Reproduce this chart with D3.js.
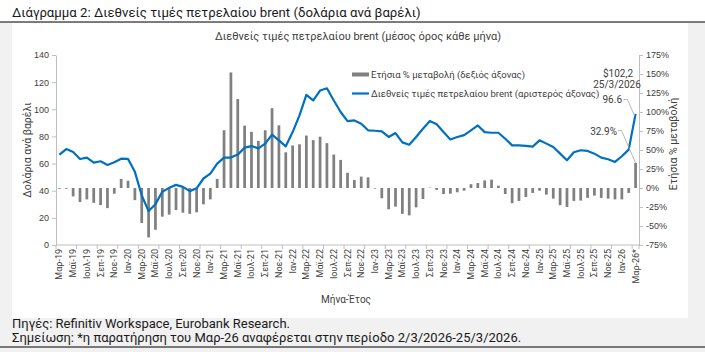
<!DOCTYPE html>
<meta charset="utf-8">
<style>
  body { margin: 0; }
  svg { font-family: Roboto, "Noto Sans", sans-serif; display: block; }
  .axis path, .axis line { stroke: #bfbfbf; }
  .axis text { fill: #404040; font-size: 9px; }
</style>
<body>
<script src="https://cdnjs.cloudflare.com/ajax/libs/d3/7.8.5/d3.min.js"></script>
<script>
  // categories, monthly from Mar-19 to Mar-26
  var months = [
    "Μαρ-19", "Απρ-19", "Μαϊ-19", "Ιουν-19", "Ιουλ-19", "Αυγ-19", "Σεπ-19", "Οκτ-19", "Νοε-19", "Δεκ-19",
    "Ιαν-20", "Φεβ-20", "Μαρ-20", "Απρ-20", "Μαϊ-20", "Ιουν-20", "Ιουλ-20", "Αυγ-20", "Σεπ-20", "Οκτ-20", "Νοε-20", "Δεκ-20",
    "Ιαν-21", "Φεβ-21", "Μαρ-21", "Απρ-21", "Μαϊ-21", "Ιουν-21", "Ιουλ-21", "Αυγ-21", "Σεπ-21", "Οκτ-21", "Νοε-21", "Δεκ-21",
    "Ιαν-22", "Φεβ-22", "Μαρ-22", "Απρ-22", "Μαϊ-22", "Ιουν-22", "Ιουλ-22", "Αυγ-22", "Σεπ-22", "Οκτ-22", "Νοε-22", "Δεκ-22",
    "Ιαν-23", "Φεβ-23", "Μαρ-23", "Απρ-23", "Μαϊ-23", "Ιουν-23", "Ιουλ-23", "Αυγ-23", "Σεπ-23", "Οκτ-23", "Νοε-23", "Δεκ-23",
    "Ιαν-24", "Φεβ-24", "Μαρ-24", "Απρ-24", "Μαϊ-24", "Ιουν-24", "Ιουλ-24", "Αυγ-24", "Σεπ-24", "Οκτ-24", "Νοε-24", "Δεκ-24",
    "Ιαν-25", "Φεβ-25", "Μαρ-25", "Απρ-25", "Μαϊ-25", "Ιουν-25", "Ιουλ-25", "Αυγ-25", "Σεπ-25", "Οκτ-25", "Νοε-25", "Δεκ-25",
    "Ιαν-26", "Φεβ-26", "Μαρ-26*"
  ];

  // brent, $ per barrel (left axis)
  var price = [
    66.6, 70.7, 68.5, 63.4, 64.4, 60.7, 61.7, 59.0, 61.0, 63.6,
    63.4, 53.9, 36.5, 25.0, 30.1, 39.2, 42.1, 44.3, 42.8, 39.7, 41.8, 49.0,
    52.6, 60.0, 64.4, 64.4, 66.6, 71.7, 72.9, 71.2, 74.7, 81.3, 77.1, 72.7,
    83.2, 95.5, 110.6, 106.5, 113.8, 115.5, 106.5, 98.0, 91.3, 91.8, 89.4, 84.5,
    84.2, 83.7, 79.6, 82.5, 75.6, 73.9, 79.6, 85.7, 91.3, 88.9, 83.2, 77.8,
    79.6, 81.0, 84.5, 88.1, 83.2, 82.7, 82.7, 78.3, 73.4, 73.4, 73.0, 72.5,
    77.1, 74.7, 72.2, 67.3, 62.4, 68.3, 69.8, 69.3, 67.3, 64.4, 63.2, 61.2,
    65.4, 70.3, 96.6
  ];

  // yearly % change (right axis)
  var yoy = [
    -1, -1, -11, -18.5, -15, -19.5, -22.5, -26.5, -7.5, 12,
    9.6, -16, -46, -65, -55, -37.7, -35, -29, -32.5, -34, -32, -21.5,
    -15, 12, 76, 152, 117, 82, 74, 62, 76, 105, 82.5, 47,
    56, 57.5, 69, 63, 67.5, 59, 44, 37, 20, 10.5, 15, 14,
    -0.8, -13.5, -28, -24.5, -34, -36, -25.5, -14.5, 0.5, -2.5, -8, -7.5,
    -5.6, -3.5, 5, 6.5, 10, 11, 3, -8, -20, -17, -12, -6.5,
    -3.5, -8.7, -14, -22.6, -25, -17, -16.5, -13, -10, -13, -14, -15,
    -15, -6.5, 32.9
  ];

  var leftTicks = [0, 20, 40, 60, 80, 100, 120, 140];
  var rightTicks = [-75, -50, -25, 0, 25, 50, 75, 100, 125, 150, 175];

  var W = 705, H = 352;
  var plot = { left: 56, right: 639, top: 55, bottom: 245 };

  var svg = d3.select("body").append("svg")
    .attr("width", W)
    .attr("height", H);

  // backgrounds
  svg.append("rect").attr("width", W).attr("height", H).attr("fill", "#f1f1f1");
  svg.append("rect").attr("width", W).attr("height", 22).attr("fill", "#fff");
  svg.append("line").attr("x1", 0).attr("x2", W).attr("y1", 22).attr("y2", 22)
    .attr("stroke", "#000").attr("stroke-width", 1.2);
  svg.append("rect").attr("x", 12).attr("y", 23).attr("width", 676).attr("height", 295).attr("fill", "#fff");
  svg.append("line").attr("x1", 0).attr("x2", W).attr("y1", 347).attr("y2", 347)
    .attr("stroke", "#000").attr("stroke-width", 1.2);

  svg.append("text").attr("x", 12).attr("y", 17)
    .attr("font-size", 13.2).attr("fill", "#1a1a1a")
    .text("Διάγραμμα 2: Διεθνείς τιμές πετρελαίου brent (δολάρια ανά βαρέλι)");

  svg.append("text").attr("x", 358).attr("y", 40).attr("text-anchor", "middle")
    .attr("font-size", 11).attr("fill", "#404040")
    .text("Διεθνείς τιμές πετρελαίου brent (μέσος όρος κάθε μήνα)");

  var x = d3.scaleBand().domain(months).range([plot.left, plot.right]).paddingInner(0.6).paddingOuter(0.3);
  var step = x.step();
  var cx = function (m) { return x(m) + x.bandwidth() / 2; };

  var yL = d3.scaleLinear().domain([0, 140]).range([plot.bottom, plot.top]);
  var yR = d3.scaleLinear().domain([-75, 175]).range([plot.bottom, plot.top]);

  // axes
  svg.append("g").attr("class", "axis")
    .attr("transform", "translate(" + plot.left + ",0)")
    .call(d3.axisLeft(yL).tickValues(leftTicks).tickSize(4).tickPadding(3).tickSizeOuter(0));

  svg.append("g").attr("class", "axis")
    .attr("transform", "translate(" + plot.right + ",0)")
    .call(d3.axisRight(yR).tickValues(rightTicks).tickSize(4).tickPadding(3).tickSizeOuter(0)
      .tickFormat(function (d) { return d + "%"; }));

  // x axis: ticks every 3 months, labels every 2
  var xg = svg.append("g").attr("class", "axis");
  xg.append("line").attr("x1", plot.left).attr("x2", plot.right)
    .attr("y1", plot.bottom).attr("y2", plot.bottom);
  xg.selectAll(".tk").data(months.filter(function (d, i) { return i % 3 === 0; }).concat(["end"]))
    .enter().append("line")
    .attr("x1", function (d) { return d === "end" ? plot.right : x(d) - step * 0.3; })
    .attr("x2", function (d) { return d === "end" ? plot.right : x(d) - step * 0.3; })
    .attr("y1", plot.bottom).attr("y2", plot.bottom + 4);
  xg.selectAll(".lb").data(months.filter(function (d, i) { return i % 2 === 0; }))
    .enter().append("text")
    .attr("transform", function (d) { return "translate(" + (cx(d) + 3) + "," + (plot.bottom + 4) + ") rotate(-90)"; })
    .attr("text-anchor", "end")
    .attr("font-size", 8.8)
    .text(function (d) { return d; });

  // bars
  svg.append("g").selectAll("rect").data(yoy).enter().append("rect")
    .attr("x", function (d, i) { return x(months[i]); })
    .attr("width", x.bandwidth())
    .attr("y", function (d) { return yR(Math.max(0, d)); })
    .attr("height", function (d) { return Math.abs(yR(d) - yR(0)); })
    .attr("fill", "#808080");

  // line
  var line = d3.line()
    .x(function (d, i) { return cx(months[i]); })
    .y(function (d) { return yL(d); });
  svg.append("path").datum(price)
    .attr("d", line)
    .attr("fill", "none")
    .attr("stroke", "#0070c0")
    .attr("stroke-width", 2.2)
    .attr("stroke-linejoin", "round");

  // axis titles
  svg.append("text").attr("transform", "translate(31,150) rotate(-90)")
    .attr("text-anchor", "middle").attr("font-size", 10.5).attr("fill", "#404040")
    .text("Δολάρια ανά βαρέλι");
  svg.append("text").attr("transform", "translate(677,144) rotate(-90)")
    .attr("text-anchor", "middle").attr("font-size", 10.5).attr("fill", "#404040")
    .text("Ετήσια % μεταβολή");
  svg.append("text").attr("x", 346).attr("y", 303).attr("text-anchor", "middle")
    .attr("font-size", 10).attr("fill", "#404040")
    .text("Μήνα-Έτος");

  // legend
  var lg = svg.append("g").attr("font-size", 9.5).attr("fill", "#404040");
  lg.append("rect").attr("x", 352).attr("y", 72.5).attr("width", 17).attr("height", 4).attr("fill", "#808080");
  lg.append("text").attr("x", 371).attr("y", 78).text("Ετήσια % μεταβολή (δεξιός άξονας)");
  lg.append("line").attr("x1", 352).attr("x2", 369).attr("y1", 93.5).attr("y2", 93.5)
    .attr("stroke", "#0070c0").attr("stroke-width", 2.2);
  lg.append("text").attr("x", 371).attr("y", 97).text("Διεθνείς τιμές πετρελαίου brent (αριστερός άξονας)");

  // annotations for the last month
  var last = months.length - 1;
  var lx = cx(months[last]);
  var ann = svg.append("g").attr("font-size", 10).attr("fill", "#404040");
  ann.append("text").attr("x", 618).attr("y", 76.5).attr("text-anchor", "middle").text("$102,2");
  ann.append("text").attr("x", 617).attr("y", 87.5).attr("text-anchor", "middle").text("25/3/2026");
  ann.append("text").attr("x", 622).attr("y", 103).attr("text-anchor", "end").text(price[last].toFixed(1));
  ann.append("text").attr("x", 617).attr("y", 134.5).attr("text-anchor", "end").text(yoy[last].toFixed(1) + "%");
  ann.append("polyline")
    .attr("points", [[623.5, 99.5], [627.5, 99.5], [lx - 1, yL(price[last]) + 2]].join(" "))
    .attr("fill", "none").attr("stroke", "#a6a6a6").attr("stroke-width", 0.8);
  ann.append("polyline")
    .attr("points", [[618, 130.5], [621.5, 130.5], [lx, yR(yoy[last])]].join(" "))
    .attr("fill", "none").attr("stroke", "#a6a6a6").attr("stroke-width", 0.8);

  // footer
  var ft = svg.append("g").attr("font-size", 13).attr("fill", "#1a1a1a");
  ft.append("text").attr("x", 12).attr("y", 328).text("Πηγές: Refinitiv Workspace, Eurobank Research.");
  ft.append("text").attr("x", 12).attr("y", 342).text("Σημείωση: *η παρατήρηση του Μαρ-26 αναφέρεται στην περίοδο 2/3/2026-25/3/2026.");
</script>
</body>
